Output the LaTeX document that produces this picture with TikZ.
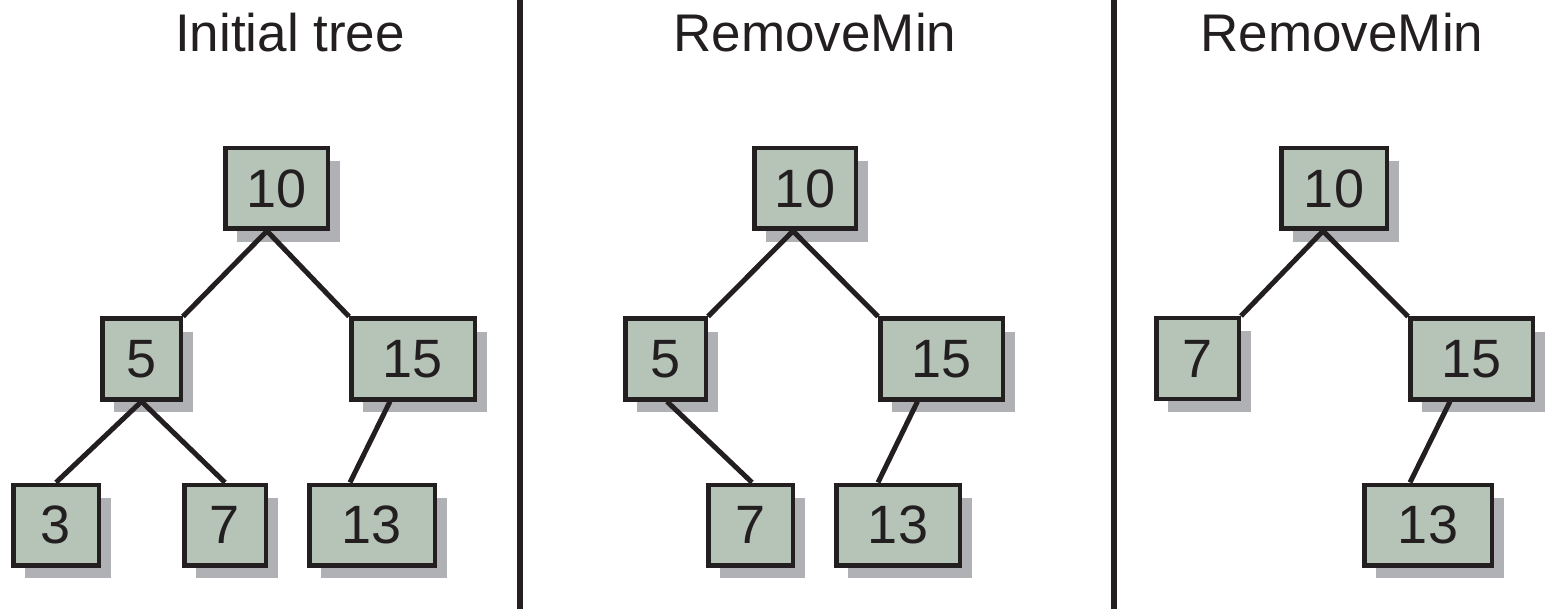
\documentclass[tikz,border=0pt]{standalone}
\usepackage{fontspec}
\setmainfont{Liberation Sans}
\usetikzlibrary{shadows}
\definecolor{boxfill}{RGB}{182,196,184}
\definecolor{shadowgray}{RGB}{176,177,180}
\definecolor{ink}{RGB}{35,31,32}
\begin{document}
\begin{tikzpicture}[x=1pt,y=-1pt,
  keybox/.style={draw=ink, line width=4.5pt, fill=boxfill, inner sep=0pt,
    minimum height=80.5pt, text=ink,
    font=\fontsize{54}{60}\selectfont,
    drop shadow={shadow xshift=12pt, shadow yshift=-13pt, fill=shadowgray, opacity=1}},
  title/.style={anchor=base, inner sep=0pt, text=ink, font=\fontsize{53}{60}\selectfont},
  link/.style={draw=ink, line width=5pt},
  divider/.style={draw=ink, line width=6pt}]
\useasboundingbox (0,0) rectangle (1546,609);

% panel separators
\draw[divider] (520,0) -- (520,609);
\draw[divider] (1114,0) -- (1114,609);

% panel headings
\node[title] (t1) at (290,52) {Initial tree};
\node[title] (t2) at (815,52) {RemoveMin};
\node[title] (t3) at (1342,52) {RemoveMin};

% initial tree
\node[keybox, minimum width=102.5pt] (a10) at (276.5,188.5) {10};
\node[keybox, minimum width=78.5pt]  (a5)  at (141.5,359) {5};
\node[keybox, minimum width=123.5pt] (a15) at (413,359) {15};
\node[keybox, minimum width=85.5pt]  (a3)  at (56,525) {3};
\node[keybox, minimum width=81.5pt]  (a7)  at (225,525) {7};
\node[keybox, minimum width=125.5pt] (a13) at (372,525) {13};

\draw[link] ([xshift=-9.5pt]a10.south) -- (a5.north east);
\draw[link] ([xshift=-9.5pt]a10.south) -- (a15.north west);
\draw[link] (a5.south) -- (a3.north);
\draw[link] (a5.south) -- (a7.north);
\draw[link] ([xshift=-23pt]a15.south) -- ([xshift=-22pt]a13.north);

% after the first RemoveMin
\node[keybox, minimum width=101.5pt] (b10) at (805,188.5) {10};
\node[keybox, minimum width=80.5pt]  (b5)  at (665.5,359) {5};
\node[keybox, minimum width=122.5pt] (b15) at (941.5,359) {15};
\node[keybox, minimum width=84.5pt]  (b7)  at (750.5,525) {7};
\node[keybox, minimum width=123.5pt] (b13) at (898,525) {13};

\draw[link] ([xshift=-12pt]b10.south) -- (b5.north east);
\draw[link] ([xshift=-12pt]b10.south) -- (b15.north west);
\draw[link] ([xshift=1.5pt]b5.south) -- ([xshift=1.5pt]b7.north);
\draw[link] ([xshift=-24pt]b15.south) -- ([xshift=-20pt]b13.north);

% after the second RemoveMin
\node[keybox, minimum width=105.5pt] (c10) at (1334,188.5) {10};
\node[keybox, minimum width=82.5pt]  (c7)  at (1197.5,358.5) {7};
\node[keybox, minimum width=122.5pt] (c15) at (1471.5,359) {15};
\node[keybox, minimum width=127.5pt] (c13) at (1428,525) {13};

\draw[link] ([xshift=-11pt]c10.south) -- (c7.north east);
\draw[link] ([xshift=-11pt]c10.south) -- (c15.north west);
\draw[link] ([xshift=-21.5pt]c15.south) -- ([xshift=-18pt]c13.north);
\end{tikzpicture}
\end{document}
